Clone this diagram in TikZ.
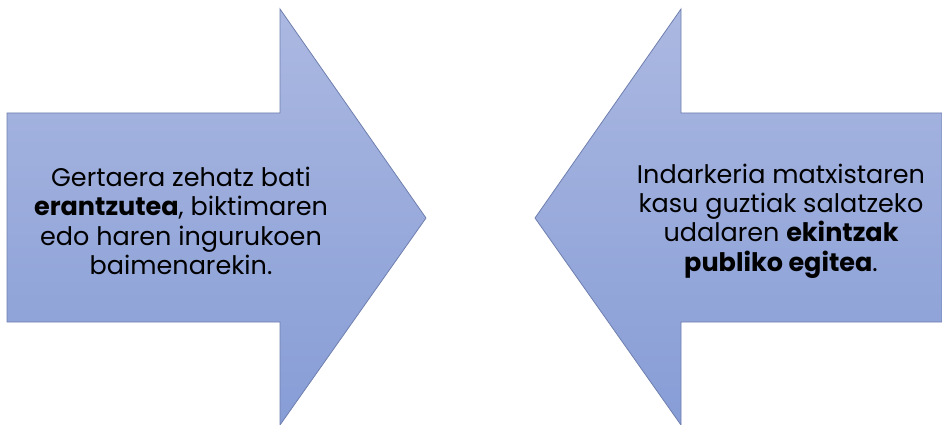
\documentclass[tikz,border=0pt]{standalone}
\usepackage{fontspec}
\setmainfont{Poppins}
\usepackage{xcolor}
\usetikzlibrary{
    arrows.meta,
    positioning,
    calc
}
\definecolor{arrowtop}{HTML}{ABB8E1}
\definecolor{arrowbottom}{HTML}{879DD6}
\definecolor{arrowline}{HTML}{6F7FAE}
\tikzset{
    bigarrow/.style={draw=arrowline, line width=0.8pt, line join=miter,
        top color=arrowtop, bottom color=arrowbottom},
    arrowtext/.style={align=center, text=black,
        font=\fontsize{25.5}{29.3}\selectfont}
}

\begin{document}
\begin{tikzpicture}[x=1pt, y=-1pt]
                \useasboundingbox (0,0) rectangle (942,425);
                % arrow pointing right
                \draw[bigarrow] (7,113) -- (280,113) -- (280,9) -- (426,218)
                    -- (280,425) -- (280,322) -- (7,322) -- cycle;
                % arrow pointing left
                \draw[bigarrow] (942,113) -- (681,113) -- (681,9) -- (535,218)
                    -- (681,425) -- (681,322) -- (942,322) -- cycle;
                \node[arrowtext] (lefttext) at (181,221)
                    {Gertaera zehatz bati\\\textbf{erantzutea}, biktimaren\\edo haren ingurukoen\\baimenarekin.};
                \node[arrowtext] (righttext) at (781,221)
                    {Indarkeria matxistaren\\kasu guztiak salatzeko\\udalaren \textbf{ekintzak}\\\textbf{publiko egitea}.};
            \end{tikzpicture}
\end{document}
